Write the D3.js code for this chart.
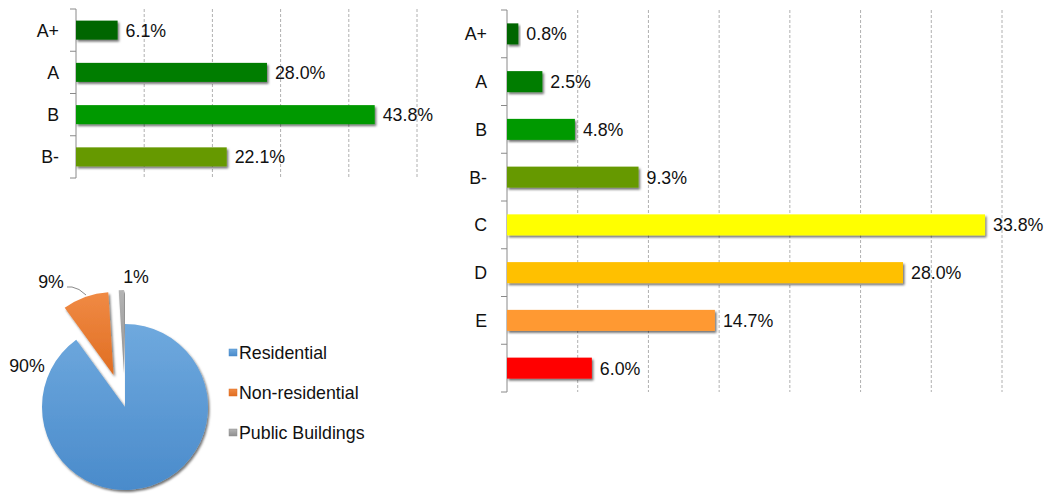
<!DOCTYPE html>
<html>
<head>
<meta charset="utf-8">
<script src="https://cdn.jsdelivr.net/npm/d3@7"></script>
<style>
  body { margin: 0; background: #fff; }
  text { font-family: "Liberation Sans", Arial, sans-serif; fill: #111; }
</style>
</head>
<body>
<svg id="chart"></svg>
<script>
// energy class shares, existing stock (top left)
const gradesTop = ["A+", "A", "B", "B-"];
const valuesTop = [6.1, 28.0, 43.8, 22.1];
const ticksTop = [10, 20, 30, 40, 50];

// energy class shares, all certificates (right)
const gradesRight = ["A+", "A", "B", "B-", "C", "D", "E", ""];
const valuesRight = [0.8, 2.5, 4.8, 9.3, 33.8, 28.0, 14.7, 6.0];
const ticksRight = [5, 10, 15, 20, 25, 30, 35];

// building use split (pie)
const useLabels = ["Residential", "Non-residential", "Public Buildings"];
const useValues = [90, 9, 1];

const gradeColors = ["#006600", "#007d00", "#009900", "#669900", "#ffff00", "#ffc000", "#ff9933", "#ff0000"];
const pieColors = [["#6fa9de", "#4a8bcb"], ["#f08a44", "#e06e22"], ["#b4b4b4", "#8f8f8f"]];

const width = 1049;
const height = 495;
const fontSize = "17.8px";

const svg = d3.select("#chart")
    .attr("width", width)
    .attr("height", height);

const defs = svg.append("defs");
defs.append("filter")
    .attr("id", "shadow")
    .attr("x", "-10%").attr("y", "-20%")
    .attr("width", "130%").attr("height", "160%")
    .append("feDropShadow")
    .attr("dx", 1.5).attr("dy", 2)
    .attr("stdDeviation", 1)
    .attr("flood-color", "#000")
    .attr("flood-opacity", 0.55);

function barChart(cats, vals, ticks, box) {
    const g = svg.append("g");
    const n = cats.length;

    const x = d3.scaleLinear()
        .domain([0, d3.max(ticks)])
        .range([box.left, box.right]);

    const y = d3.scaleBand()
        .domain(d3.range(n))
        .range([box.top, box.bottom])
        .paddingInner(box.pad)
        .paddingOuter(box.pad / 2);

    const slot = (box.bottom - box.top) / n;

    // dashed gridlines
    g.selectAll("line.grid")
        .data(ticks)
        .enter().append("line")
        .attr("class", "grid")
        .attr("x1", d => x(d)).attr("x2", d => x(d))
        .attr("y1", box.top).attr("y2", box.bottom)
        .attr("stroke", "#b0b0b0")
        .attr("stroke-width", 1)
        .attr("stroke-dasharray", "3,2");

    // category axis
    g.append("line")
        .attr("x1", box.left).attr("x2", box.left)
        .attr("y1", box.top).attr("y2", box.bottom)
        .attr("stroke", "#8a8a8a");

    g.selectAll("line.tick")
        .data(d3.range(n + 1))
        .enter().append("line")
        .attr("class", "tick")
        .attr("x1", box.left - 6).attr("x2", box.left)
        .attr("y1", d => box.top + d * slot)
        .attr("y2", d => box.top + d * slot)
        .attr("stroke", "#8a8a8a");

    g.selectAll("rect.bar")
        .data(vals)
        .enter().append("rect")
        .attr("class", "bar")
        .attr("x", x(0))
        .attr("y", (d, i) => y(i))
        .attr("width", d => x(d) - x(0))
        .attr("height", y.bandwidth())
        .attr("fill", (d, i) => gradeColors[i])
        .attr("filter", "url(#shadow)");

    g.selectAll("text.cat")
        .data(cats)
        .enter().append("text")
        .attr("class", "cat")
        .attr("x", box.left - box.labelGap)
        .attr("y", (d, i) => y(i) + y.bandwidth() / 2)
        .attr("dy", "0.36em")
        .attr("text-anchor", "end")
        .style("font-size", fontSize)
        .text(d => d);

    g.selectAll("text.val")
        .data(vals)
        .enter().append("text")
        .attr("class", "val")
        .attr("x", d => x(d) + 8)
        .attr("y", (d, i) => y(i) + y.bandwidth() / 2)
        .attr("dy", "0.36em")
        .style("font-size", fontSize)
        .text(d => d3.format(".1f")(d) + "%");
}

barChart(gradesTop, valuesTop, ticksTop, {left: 76, right: 417, top: 9, bottom: 178, pad: 0.55, labelGap: 17});
barChart(gradesRight, valuesRight, ticksRight, {left: 507, right: 1002, top: 10, bottom: 392, pad: 0.56, labelGap: 20});

// pie
const cx = 125, cy = 407, radius = 83;
const explode = [0, 34, 34];

const pie = d3.pie().sort(null).value(d => d);
const arc = d3.arc().innerRadius(0).outerRadius(radius);
const slices = pie(useValues);

pieColors.forEach(function (c, i) {
    const grad = defs.append("linearGradient")
        .attr("id", "pg" + i)
        .attr("x1", 0).attr("y1", 0).attr("x2", 0).attr("y2", 1);
    grad.append("stop").attr("offset", "0%").attr("stop-color", c[0]);
    grad.append("stop").attr("offset", "100%").attr("stop-color", c[1]);
});

const pieG = svg.append("g").attr("transform", "translate(" + cx + "," + cy + ")");

pieG.selectAll("path")
    .data(slices)
    .enter().append("path")
    .attr("transform", function (d, i) {
        const mid = (d.startAngle + d.endAngle) / 2;
        return "translate(" + (Math.sin(mid) * explode[i]) + "," + (-Math.cos(mid) * explode[i]) + ")";
    })
    .attr("d", arc)
    .attr("fill", (d, i) => "url(#pg" + i + ")")
    .attr("filter", "url(#shadow)");

// data labels, placed like the original's best-fit
const labelPos = [[-98, -41], [-74, -125], [11, -130]];
pieG.selectAll("text.plab")
    .data(slices)
    .enter().append("text")
    .attr("class", "plab")
    .attr("x", (d, i) => labelPos[i][0])
    .attr("y", (d, i) => labelPos[i][1])
    .attr("dy", "0.36em")
    .attr("text-anchor", "middle")
    .style("font-size", fontSize)
    .text(d => d.data + "%");

// leader line for the 9% label
pieG.append("path")
    .attr("d", "M" + (-58) + "," + (-120) + "H" + (-53) + "Q" + (-46) + "," + (-119) + " " + (-39) + "," + (-112))
    .attr("fill", "none")
    .attr("stroke", "#8a8a8a")
    .attr("stroke-width", 1);

// legend
const legend = svg.append("g").attr("transform", "translate(229,353)");
const item = legend.selectAll("g")
    .data(useLabels)
    .enter().append("g")
    .attr("transform", (d, i) => "translate(0," + (i * 40) + ")");

item.append("rect")
    .attr("x", 0).attr("y", -4)
    .attr("width", 8).attr("height", 7)
    .attr("fill", (d, i) => "url(#pg" + i + ")")
    .attr("stroke", (d, i) => pieColors[i][1])
    .attr("stroke-width", 0.5);

item.append("text")
    .attr("x", 10)
    .attr("dy", "0.36em")
    .style("font-size", fontSize)
    .text(d => d);
</script>
</body>
</html>
